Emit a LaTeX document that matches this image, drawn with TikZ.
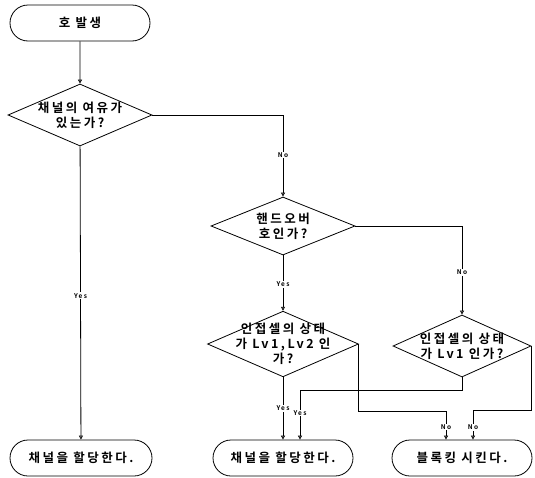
\documentclass[tikz,border=0pt]{standalone}
\usepackage{fontspec}
\setmainfont{Noto Sans CJK KR}[LetterSpace=20, BoldFont={Noto Sans CJK KR Bold}]
\usetikzlibrary{arrows.meta,calc,shapes.geometric,shapes.misc}
\tikzset{
	term/.style={draw, rounded rectangle, minimum width=140pt, minimum height=36pt, inner sep=0pt},
	ask/.style={draw, diamond, aspect=2.3, inner sep=-6pt, minimum width=144pt, minimum height=62pt, align=center},
	yn/.style={fill=white, inner sep=1pt, font=\fontsize{6.5}{6.5}\selectfont\bfseries},
	flow/.style={-{Triangle[open,length=4pt,width=4pt]}}
}

\begin{document}
\begin{tikzpicture}[x=1pt, y=-1pt, font=\fontsize{12.5}{15}\selectfont\bfseries, line width=0.8pt]
		%%%%% START %%%%%
		\useasboundingbox (0, 0) rectangle (535, 477);
		
		\node[term] (start) at (80, 23) {호 발생};
		\node[ask] (room) at (80, 115) {채널의 여유가\\있는가?};
		\node[ask, minimum height=58pt] (hand) at (283, 226) {핸드오버\\호인가?};
		\node[ask] (lvtwo) at (283, 344) {인접셀의 상태\\가 Lv1,Lv2 인\\가?};
		\node[ask, minimum width=138pt] (lvone) at (462, 346) {인접셀의 상태\\가 Lv1 인가?};
		
		\node[term, minimum width=142pt] (giveA) at (81, 458) {채널을 할당한다.};
		\node[term] (giveB) at (283, 458) {채널을 할당한다.};
		\node[term] (block) at (462, 458) {블록킹 시킨다.};
		
		\coordinate (giveBin) at ($(giveB.north)+(17, 0)$);
		\coordinate (blockA) at ($(block.north)+(-16, 0)$);
		\coordinate (blockB) at ($(block.north)+(11, 0)$);
		
		\draw[flow] (start) -- (room);
		\draw[flow] (room) -- node[yn, pos=0.51] {Yes} (giveA);
		\draw[flow] (room.east) -| node[yn, pos=0.745] {No} (hand.north);
		
		\draw[flow] (hand) -- node[yn, pos=0.52] {Yes} (lvtwo);
		\draw[flow] (hand.east) -| node[yn, pos=0.76] {No} (lvone.north);
		
		\draw[flow] (lvtwo) -- node[yn, pos=0.5] {Yes} (giveB);
		\draw[flow] (lvtwo.east) -- ++(0, 67) -| node[yn, pos=0.78] {No} (blockA);
		
		\draw[flow] (lvone.south) -- ++(0, 13) -| node[yn, pos=0.73] {Yes} (giveBin);
		\draw[flow] (lvone.east) -- ++(0, 64) -| node[yn, pos=0.79] {No} (blockB);
		
		%%%%% END %%%%%
\end{tikzpicture}
\end{document}
